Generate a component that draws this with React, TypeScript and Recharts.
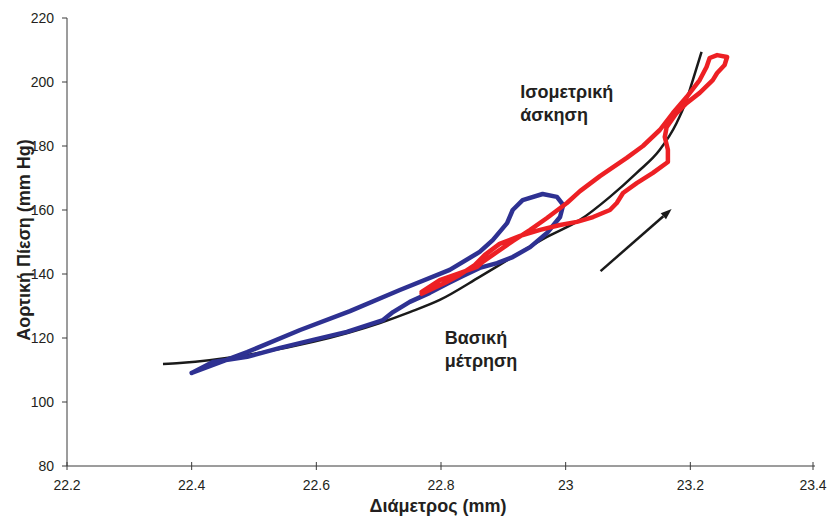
import React from 'react';
import { LineChart, Line, XAxis, YAxis, ReferenceLine, ReferenceDot } from 'recharts';

const xTicks = [22.2, 22.4, 22.6, 22.8, 23.0, 23.2, 23.4];
const yTicks = [80, 100, 120, 140, 160, 180, 200, 220];

const baselineDiameter = [22.354, 22.381, 22.489, 22.595, 22.702, 22.75, 22.798, 22.862, 22.915, 22.97, 23.023, 23.071, 23.114, 23.151, 23.178, 23.194, 23.204, 23.218];
const baselinePressure = [111.9, 112.2, 114.7, 118.8, 124.7, 128.1, 131.9, 139.1, 145.3, 151.6, 156.9, 164.1, 171.6, 178.8, 187.2, 194.4, 200.6, 209.4];

const restDiameter = [22.4, 22.489, 22.574, 22.654, 22.734, 22.814, 22.862, 22.883, 22.906, 22.915, 22.931, 22.963, 22.986, 22.996, 22.991, 22.97, 22.943, 22.915, 22.89, 22.862, 22.835, 22.809, 22.782, 22.75, 22.723, 22.707, 22.649, 22.595, 22.542, 22.489, 22.434, 22.4];
const restPressure = [109.1, 115.6, 122.5, 128.4, 135.0, 141.3, 146.9, 150.6, 155.9, 160.0, 163.1, 165.0, 164.1, 161.6, 157.8, 152.8, 148.4, 145.3, 143.4, 141.9, 139.4, 136.9, 134.1, 131.3, 128.1, 125.6, 121.9, 119.4, 116.9, 114.1, 112.5, 109.1];

const exerciseDiameter = [22.769, 22.798, 22.83, 22.858, 22.867, 22.89, 22.915, 22.943, 22.97, 23.002, 23.023, 23.055, 23.098, 23.124, 23.151, 23.172, 23.194, 23.215, 23.226, 23.231, 23.243, 23.259, 23.255, 23.243, 23.236, 23.215, 23.194, 23.178, 23.162, 23.159, 23.164, 23.164, 23.14, 23.114, 23.092, 23.082, 23.071, 23.044, 23.018, 22.991, 22.959, 22.927, 22.894, 22.87, 22.854, 22.83, 22.806, 22.782, 22.769];
const exercisePressure = [134.4, 138.1, 140.3, 142.2, 143.8, 146.9, 150.3, 153.8, 157.5, 162.2, 165.9, 170.6, 176.3, 180.0, 185.0, 190.3, 195.3, 200.6, 204.7, 207.5, 208.4, 207.8, 205.3, 202.8, 200.6, 196.6, 193.4, 190.3, 185.9, 182.8, 178.8, 175.0, 171.6, 168.4, 165.3, 162.2, 160.0, 157.8, 156.3, 155.3, 153.8, 151.9, 149.4, 145.9, 142.8, 139.7, 137.2, 135.0, 133.8];

const arrowDiameter = [23.056, 23.17];
const arrowPressure = [140.9, 160.3];

const exerciseLabel = ['Ισομετρική', 'άσκηση'];
const exerciseLabelAt = { x: 22.927, y: 195 };
const baselineLabel = ['Βασική', 'μέτρηση'];
const baselineLabelAt = { x: 22.806, y: 118.1 };

const toPoints = (xs: number[], ys: number[]) => xs.map((x, i) => ({ x, y: ys[i] }));
const baselineData = toPoints(baselineDiameter, baselinePressure);
const restData = toPoints(restDiameter, restPressure);
const exerciseData = toPoints(exerciseDiameter, exercisePressure);

const FONT = '"Liberation Sans", Arial, Helvetica, sans-serif';
const TEXT = '#231f20';
const AXIS = '#3a3a3a';

const fmt = (v: number) => String(Number(v.toFixed(1)));

const XTick = (props: any) => {
  const { x, y, payload } = props;
  return (
    <g>
      <line x1={x} x2={x} y1={y - 4} y2={y + 4} stroke={AXIS} strokeWidth={1} />
      <text x={x} y={y + 24} textAnchor="middle" fontSize={14} fill={TEXT} fontFamily={FONT}>
        {fmt(payload.value)}
      </text>
    </g>
  );
};

const TwoLineText = (lines: string[]) => (props: any) => {
  const { cx, cy } = props;
  return (
    <text x={cx} y={cy} fontSize={18} fontWeight="bold" fill={TEXT} fontFamily={FONT}>
      {lines.map((l, i) => (
        <tspan key={i} x={cx} dy={i === 0 ? 0 : 23}>{l}</tspan>
      ))}
    </text>
  );
};

const Arrow = (props: any) => {
  const { x1, y1, x2, y2 } = props;
  const ang = Math.atan2(y2 - y1, x2 - x1);
  const len = 11;
  const hw = 4;
  const bx = x2 - len * Math.cos(ang);
  const by = y2 - len * Math.sin(ang);
  const px = -Math.sin(ang) * hw;
  const py = Math.cos(ang) * hw;
  return (
    <g>
      <line x1={x1} y1={y1} x2={bx} y2={by} stroke="#1a1a1a" strokeWidth={2.5} />
      <polygon points={`${x2},${y2} ${bx + px},${by + py} ${bx - px},${by - py}`} fill="#1a1a1a" />
    </g>
  );
};

const YLabel = (props: any) => {
  const { viewBox } = props;
  const cx = 30;
  const cy = viewBox.y + viewBox.height / 2 - 2;
  return (
    <text x={cx} y={cy} transform={`rotate(-90, ${cx}, ${cy})`} textAnchor="middle" fontSize={18} fontWeight="bold" fill={TEXT} fontFamily={FONT}>
      Αορτική Πίεση (mm Hg)
    </text>
  );
};

const XLabel = (props: any) => {
  const { viewBox } = props;
  const cx = viewBox.x + viewBox.width / 2 - 3;
  return (
    <text x={cx} y={512} textAnchor="middle" fontSize={18} fontWeight="bold" fill={TEXT} fontFamily={FONT}>
      Διάμετρος (mm)
    </text>
  );
};

export default function App() {
  return (
    <div style={{ position: 'absolute', left: 0, top: 0, background: '#fff' }}>
      <LineChart width={827} height={516} margin={{ top: 18, right: 12, bottom: 0, left: 0 }}>
        <XAxis
          type="number"
          dataKey="x"
          domain={[22.2, 23.4]}
          ticks={xTicks}
          allowDataOverflow
          height={50}
          tickSize={0}
          tickMargin={0}
          tickLine={false}
          axisLine={{ stroke: AXIS, strokeWidth: 1 }}
          tick={<XTick />}
          label={<XLabel />}
        />
        <YAxis
          type="number"
          dataKey="y"
          domain={[80, 220]}
          ticks={yTicks}
          allowDataOverflow
          width={67}
          tickSize={5}
          tickMargin={8}
          axisLine={{ stroke: AXIS, strokeWidth: 1 }}
          tickLine={{ stroke: AXIS, strokeWidth: 1 }}
          tick={{ fill: TEXT, fontSize: 14, fontFamily: FONT }}
          label={<YLabel />}
        />
        <Line data={baselineData} dataKey="y" type="monotone" stroke="#1a1a1a" strokeWidth={2.5} dot={false} isAnimationActive={false} />
        <Line data={restData} dataKey="y" type="linear" stroke="#2e3192" strokeWidth={4.5} strokeLinejoin="round" strokeLinecap="round" dot={false} isAnimationActive={false} />
        <Line data={exerciseData} dataKey="y" type="linear" stroke="#ed2024" strokeWidth={4.5} strokeLinejoin="round" strokeLinecap="round" dot={false} isAnimationActive={false} />
        <ReferenceLine
          segment={[
            { x: arrowDiameter[0], y: arrowPressure[0] },
            { x: arrowDiameter[1], y: arrowPressure[1] },
          ]}
          shape={<Arrow />}
        />
        <ReferenceDot x={exerciseLabelAt.x} y={exerciseLabelAt.y} r={0} shape={TwoLineText(exerciseLabel)} />
        <ReferenceDot x={baselineLabelAt.x} y={baselineLabelAt.y} r={0} shape={TwoLineText(baselineLabel)} />
      </LineChart>
    </div>
  );
}
